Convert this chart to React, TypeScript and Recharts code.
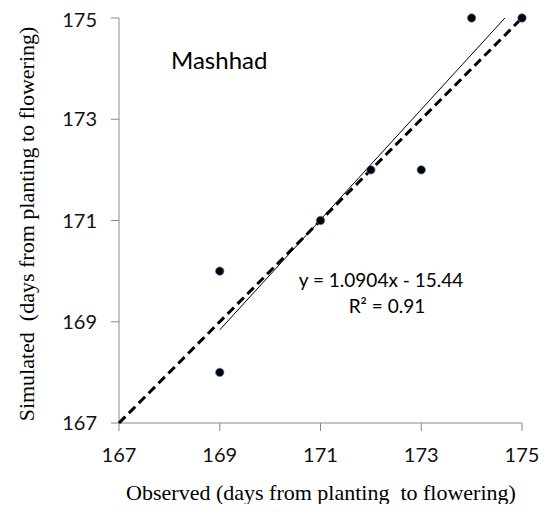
import { ScatterChart, Scatter, XAxis, YAxis } from 'recharts';

// observed vs simulated days from planting to flowering (Mashhad)
const observed = [169, 169, 171, 172, 173, 174, 175];
const simulated = [170, 168, 171, 172, 172, 175, 175];

// 1:1 line ends
const oneToOneX = [167, 175];
const oneToOneY = [167, 175];

// fitted trend line ends (y = 1.0904x - 15.44)
const trendX = [169, 174.66];
const trendY = [168.84, 175.0];

const axisTicks = [167, 169, 171, 173, 175];

const points = observed.map((x, i) => ({ x, y: simulated[i] }));
const oneToOne = oneToOneX.map((x, i) => ({ x, y: oneToOneY[i] }));
const trend = trendX.map((x, i) => ({ x, y: trendY[i] }));

const W = 533;
const H = 496;

const tickStyle = { fontSize: 20, fill: '#111', fontFamily: 'Lato' };

const Dot = (props: any) => {
  const { cx, cy } = props;
  if (cx == null || cy == null) return null;
  return <circle cx={cx} cy={cy} r={4.2} fill="#000" stroke="#4f81bd" strokeWidth={0.7} />;
};

export default function App() {
  return (
    <div style={{ position: 'relative', width: W, height: H }}>
      <ScatterChart width={W} height={H} margin={{ top: 10, right: 19, left: 0, bottom: 0 }}>
        <XAxis
          type="number"
          dataKey="x"
          domain={[167, 175]}
          ticks={axisTicks}
          height={81}
          tickSize={8}
          tickMargin={17}
          tick={tickStyle}
          stroke="#8a8a8a"
        />
        <YAxis
          type="number"
          dataKey="y"
          domain={[167, 175]}
          ticks={axisTicks}
          width={111}
          tickSize={8}
          tickMargin={14}
          tick={tickStyle}
          stroke="#8a8a8a"
        />
        <Scatter
          data={oneToOne}
          line={{ stroke: '#000', strokeWidth: 3, strokeDasharray: '9 5' }}
          shape={() => null}
          isAnimationActive={false}
        />
        <Scatter
          data={trend}
          line={{ stroke: '#000', strokeWidth: 1 }}
          shape={() => null}
          isAnimationActive={false}
        />
        <Scatter data={points} shape={<Dot />} isAnimationActive={false} />
      </ScatterChart>
      <svg
        width={W}
        height={H}
        style={{ position: 'absolute', left: 0, top: 0, pointerEvents: 'none' }}
      >
        <text x={163} y={61} fontFamily="Lato" fontSize={24} fill="#000">
          Mashhad
        </text>
        <text x={373} y={279} fontFamily="Lato" fontSize={19} fill="#000" textAnchor="middle">
          y = 1.0904x - 15.44
        </text>
        <text x={379} y={305} fontFamily="Lato" fontSize={19} fill="#000" textAnchor="middle">
          R² = 0.91
        </text>
        <text
          x={313}
          y={492}
          fontFamily="Liberation Serif"
          fontSize={22}
          fill="#000"
          textAnchor="middle"
        >
          {'Observed (days from planting\u00a0 to flowering)'}
        </text>
        <text
          x={0}
          y={0}
          transform="translate(26 216) rotate(-90)"
          fontFamily="Liberation Serif"
          fontSize={22}
          fill="#000"
          textAnchor="middle"
        >
          {'Simulated\u00a0 (days from planting to flowering)'}
        </text>
      </svg>
    </div>
  );
}
